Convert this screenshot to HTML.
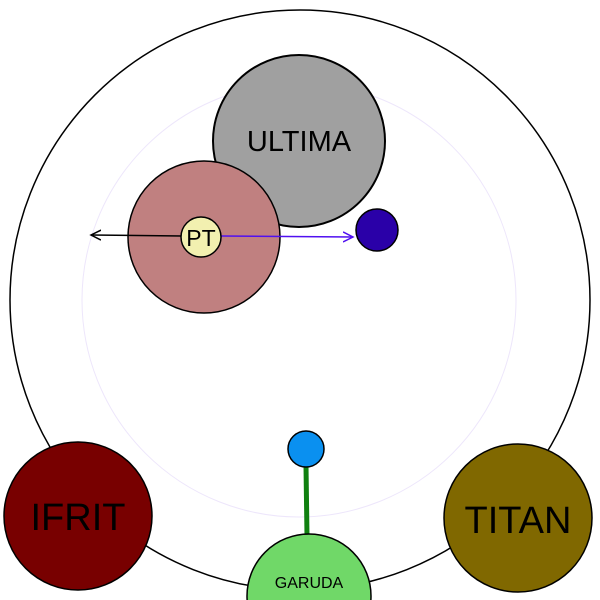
<!DOCTYPE html>
<html><head><meta charset="utf-8"><style>
html,body{margin:0;padding:0;background:#fff;width:600px;height:600px;overflow:hidden}
svg{display:block}
text{font-family:"Liberation Sans","DejaVu Sans",sans-serif}
</style></head><body>
<svg width="600" height="600" viewBox="0 0 600 600">
<defs>
<marker id="ab" markerWidth="12" markerHeight="12" refX="10" refY="6" orient="auto" markerUnits="userSpaceOnUse"><path d="M0,1 L10,6 L0,11" fill="none" stroke="#000" stroke-width="1.5"/></marker>
<marker id="ap" markerWidth="12" markerHeight="12" refX="10" refY="6" orient="auto" markerUnits="userSpaceOnUse"><path d="M0,1 L10,6 L0,11" fill="none" stroke="#5010f0" stroke-width="1.5"/></marker>
</defs>
<circle cx="300" cy="300" r="290" fill="none" stroke="#000" stroke-width="1.5"/>
<circle cx="299" cy="300" r="217" fill="none" stroke="#ede6fb" stroke-width="1"/>
<circle cx="299" cy="141" r="86" fill="#a0a0a0" stroke="#000" stroke-width="2"/>
<text x="299" y="151" font-size="29" text-anchor="middle" fill="#000">ULTIMA</text>
<circle cx="204" cy="237" r="76" fill="#c08080" stroke="#000" stroke-width="1.5"/>
<line x1="182" y1="236" x2="91" y2="235" stroke="#000" stroke-width="1.5" marker-end="url(#ab)"/>
<line x1="221" y1="236" x2="353" y2="237" stroke="#5010f0" stroke-width="1.5" marker-end="url(#ap)"/>
<circle cx="201" cy="237" r="20" fill="#f2f0b0" stroke="#000" stroke-width="1.5"/>
<text x="201" y="246" font-size="23" text-anchor="middle" fill="#000">PT</text>
<circle cx="377" cy="230" r="21" fill="#2a00a8" stroke="#000" stroke-width="1.5"/>
<line x1="306" y1="466" x2="307" y2="536" stroke="#108010" stroke-width="5"/>
<circle cx="306" cy="449" r="18" fill="#0a90f0" stroke="#000" stroke-width="1.5"/>
<circle cx="309" cy="596" r="62" fill="#70d868" stroke="#000" stroke-width="1.5"/>
<text x="309" y="588" font-size="16" text-anchor="middle" fill="#000">GARUDA</text>
<circle cx="78" cy="516" r="74" fill="#780000" stroke="#000" stroke-width="1.5"/>
<text x="78" y="530" font-size="38" text-anchor="middle" fill="#000">IFRIT</text>
<circle cx="518" cy="518" r="74" fill="#806800" stroke="#000" stroke-width="1.5"/>
<text x="518" y="533" font-size="38" text-anchor="middle" fill="#000">TITAN</text>
</svg>
</body></html>
